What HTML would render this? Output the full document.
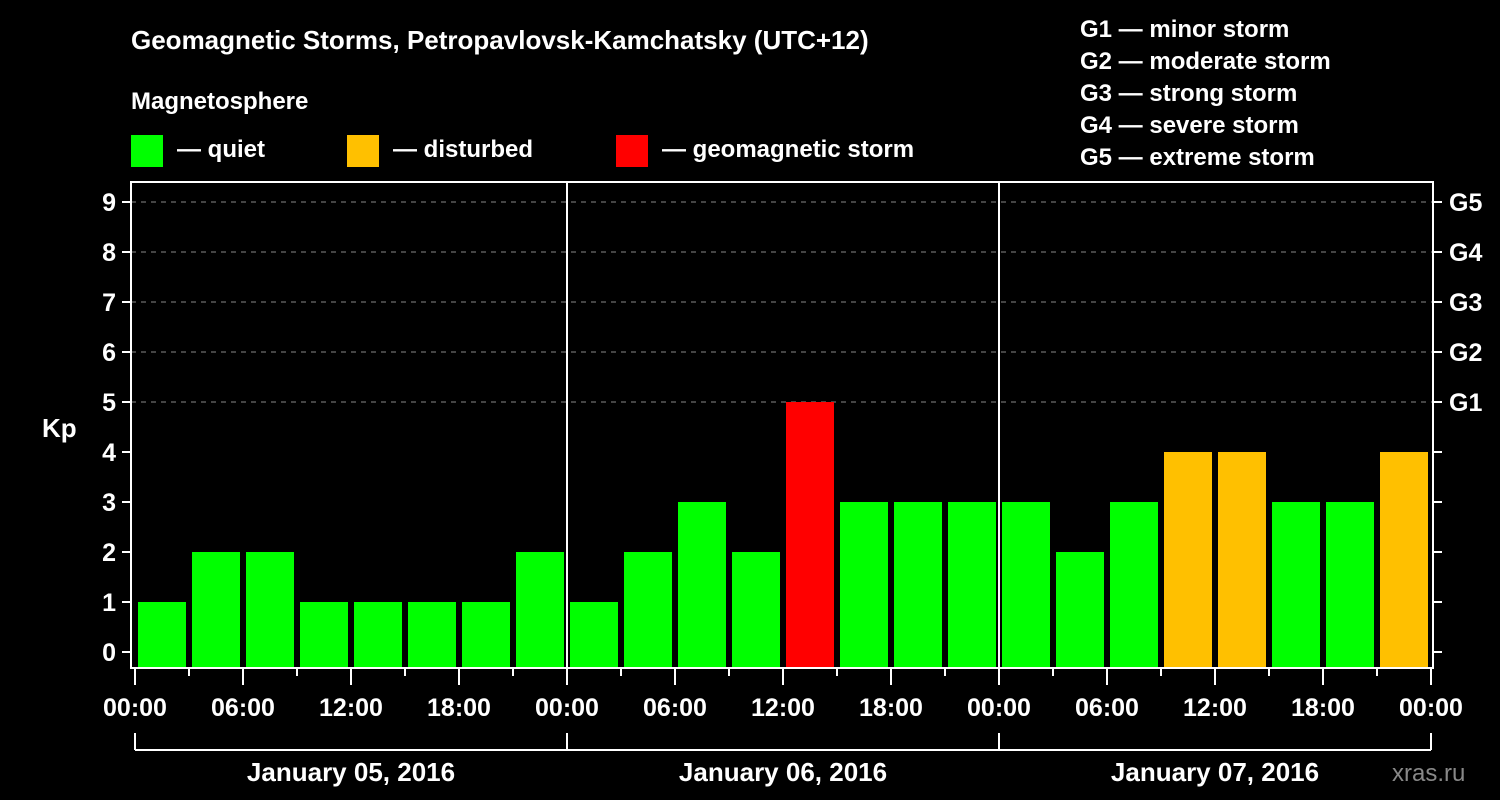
<!DOCTYPE html>
<html><head><meta charset="utf-8"><style>
body{margin:0;background:#000;}
svg{display:block;font-family:"Liberation Sans",Arial,sans-serif;font-weight:bold;}
</style></head><body>
<svg width="1500" height="800" viewBox="0 0 1500 800">
<rect x="0" y="0" width="1500" height="800" fill="#000"/>
<text x="131" y="49" fill="#fff" font-size="26">Geomagnetic Storms, Petropavlovsk-Kamchatsky (UTC+12)</text>
<text x="131" y="109" fill="#fff" font-size="24">Magnetosphere</text>
<g><rect x="131" y="135" width="32" height="32" fill="#00ff00"/><text x="177" y="157" fill="#fff" font-size="24">— quiet</text></g>
<g><rect x="347" y="135" width="32" height="32" fill="#ffc000"/><text x="393" y="157" fill="#fff" font-size="24">— disturbed</text></g>
<g><rect x="616" y="135" width="32" height="32" fill="#ff0000"/><text x="662" y="157" fill="#fff" font-size="24">— geomagnetic storm</text></g>
<g fill="#fff" font-size="24">
<text x="1080" y="37">G1 — minor storm</text>
<text x="1080" y="69">G2 — moderate storm</text>
<text x="1080" y="101">G3 — strong storm</text>
<text x="1080" y="133">G4 — severe storm</text>
<text x="1080" y="165">G5 — extreme storm</text>
</g>
<g id="grid"></g>
<g id="bars"></g>
<g id="axes"></g>
<text x="42" y="437" fill="#fff" font-size="26">Kp</text>
<text x="1392" y="781" fill="#888" font-size="24" font-weight="normal">xras.ru</text>
</svg>
<script>
const kpValues=[1,2,2,1,1,1,1,2, 1,2,3,2,5,3,3,3, 3,2,3,4,4,3,3,4];
const dayLabels=["January 05, 2016","January 06, 2016","January 07, 2016"];
const yTicks=[0,1,2,3,4,5,6,7,8,9];
const gLabels=["G1","G2","G3","G4","G5"];
const timeLabels=["00:00","06:00","12:00","18:00"];
const NS="http://www.w3.org/2000/svg";
const X0=135,DAYW=432,STEP=DAYW/8,Y0=652,UNIT=50,L=131,R=1433,T=182,B=668;
const sx=h=>X0+h*(DAYW/24), sy=v=>Y0-v*UNIT;
function mk(t,a,p){const e=document.createElementNS(NS,t);for(const k in a)e.setAttribute(k,a[k]);p.appendChild(e);return e;}
const grid=document.getElementById('grid'),bars=document.getElementById('bars'),axes=document.getElementById('axes');
yTicks.forEach(v=>{
 if(v>=5){const g=mk('line',{x1:L,x2:R,y1:sy(v),y2:sy(v),stroke:'#888','stroke-dasharray':'5,5','stroke-width':1},grid);
 }
 const t=mk('line',{x1:122,x2:L,y1:sy(v),y2:sy(v),stroke:'#fff','stroke-width':2},axes);
 
 const t2=mk('line',{x1:R,x2:1442,y1:sy(v),y2:sy(v),stroke:'#fff','stroke-width':2},axes);
 
 const lb=mk('text',{x:116,y:sy(v)+9,fill:'#fff','font-size':25,'text-anchor':'end'},axes);lb.textContent=v;
 
});
gLabels.forEach((g,i)=>{const lb=mk('text',{x:1449,y:sy(5+i)+9,fill:'#fff','font-size':25},axes);lb.textContent=g;
 });
kpValues.forEach((v,i)=>{
 const c=v>=5?'#ff0000':(v>=4?'#ffc000':'#00ff00');
 const x=sx(i*3)+3;
 const r=mk('rect',{x:x,y:sy(v),width:STEP-6,height:B-sy(v),fill:c},bars);
 
});
const fr=mk('rect',{x:L,y:T,width:R-L,height:B-T,fill:'none',stroke:'#fff','stroke-width':2},axes);

for(let d=1;d<3;d++){const l=mk('line',{x1:sx(24*d),x2:sx(24*d),y1:T,y2:B,stroke:'#fff','stroke-width':2},axes);
 }
for(let h=0;h<=72;h+=3){
 const major=h%6===0;
 const t=mk('line',{x1:sx(h),x2:sx(h),y1:B,y2:B+(major?17:8),stroke:'#fff','stroke-width':2},axes);
 
 if(major){const lb=mk('text',{x:sx(h),y:716,fill:'#fff','font-size':25,'text-anchor':'middle'},axes);
  lb.textContent=timeLabels[(h/6)%4];
  }
}
const br=mk('line',{x1:sx(0),x2:sx(72),y1:750,y2:750,stroke:'#fff','stroke-width':2},axes);

for(let d=0;d<=3;d++){const l=mk('line',{x1:sx(24*d),x2:sx(24*d),y1:733,y2:750,stroke:'#fff','stroke-width':2},axes);
 }
dayLabels.forEach((d,i)=>{const lb=mk('text',{x:sx(24*i+12),y:781,fill:'#fff','font-size':26,'text-anchor':'middle'},axes);
 lb.textContent=d;});
</script>
</body></html>
